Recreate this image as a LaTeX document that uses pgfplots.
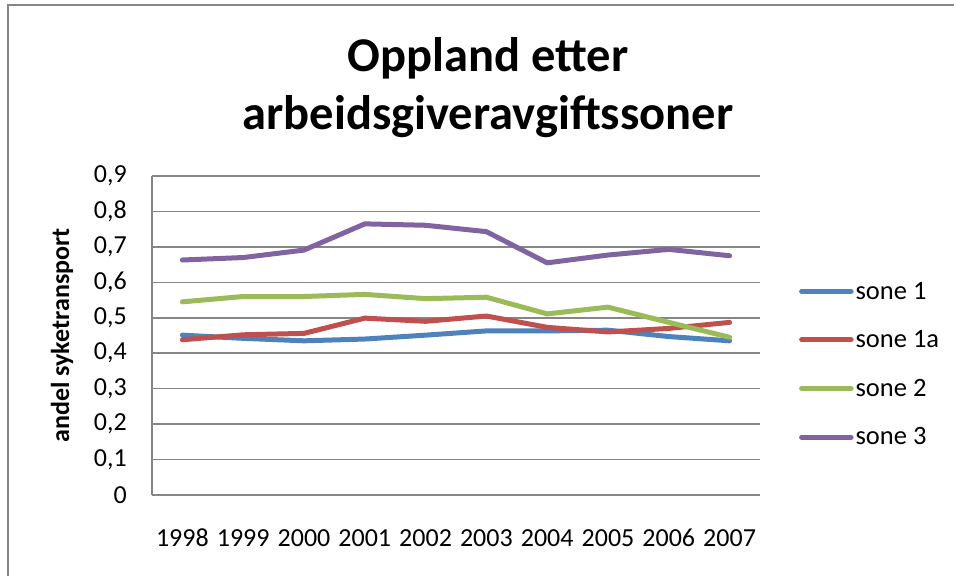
\documentclass[border=0pt]{standalone}
\usepackage{pgfplots}
\pgfplotsset{compat=1.18}
\usepackage{fontspec}
\setmainfont{Carlito}
\definecolor{sblue}{HTML}{4F81BD}
\definecolor{sred}{HTML}{C0504D}
\definecolor{sgreen}{HTML}{9BBB59}
\definecolor{spurple}{HTML}{8064A2}
\definecolor{gridgray}{HTML}{868686}
\begin{document}
\begin{tikzpicture}
\path[use as bounding box] (0,0) rectangle (954bp,576bp);
\draw[gridgray, line width=1.5bp] (8bp,-2bp) -- (8bp,571bp) -- (960bp,571bp);
\node[font=\fontsize{48.5bp}{58bp}\selectfont\bfseries, align=center, anchor=base] at (488bp,446bp) {Oppland etter\\arbeidsgiveravgiftssoner};
\begin{axis}[
  at={(152bp,81bp)}, anchor=south west,
  scale only axis, width=608bp, height=319bp,
  xmin=-0.5, xmax=9.5, ymin=0, ymax=0.9,
  xtick={0,...,9},
  xticklabels={1998,1999,2000,2001,2002,2003,2004,2005,2006,2007},
  ytick={0,0.1,...,0.9},
  axis lines=left,
  axis line style={draw=gridgray, line width=1.5bp, -},
  ymajorgrids, grid style={draw=gridgray, line width=1.5bp},
  major tick length=0pt,
  tick style={draw=none},
  ticklabel style={font=\fontsize{26bp}{30bp}\selectfont},
  /pgf/number format/assume math mode=true,
  /pgf/number format/use comma,
  /pgf/number format/fixed,
  /pgf/number format/precision=1,
  yticklabel style={anchor=east, inner sep=0pt, xshift=-25bp},
  xticklabel style={anchor=north, inner sep=0pt, text height=17bp, text depth=0pt, yshift=-34bp},
  ylabel={andel syketransport},
  every axis y label/.style={at={(axis description cs:-0.148,0.5)}, rotate=90, anchor=center, font=\fontsize{26bp}{30bp}\selectfont\bfseries},
  legend style={at={(axis description cs:1.064,0.41)}, anchor=west, draw=none, fill=none,
    font=\fontsize{26.5bp}{30bp}\selectfont, row sep=26bp, inner sep=0pt,
    nodes={inner sep=2bp, anchor=west}},
  legend cell align=left,
  legend image code/.code={\draw[#1, line cap=round] (2.5bp,0bp) -- (52bp,0bp);},
  every axis plot/.append style={line width=5bp, line join=round, line cap=round},
]
\addplot[sblue] coordinates {(0,0.451) (1,0.442) (2,0.435) (3,0.440) (4,0.451) (5,0.463) (6,0.463) (7,0.465) (8,0.447) (9,0.435)};
\addlegendentry{sone 1}
\addplot[sred] coordinates {(0,0.438) (1,0.452) (2,0.456) (3,0.499) (4,0.490) (5,0.505) (6,0.473) (7,0.460) (8,0.470) (9,0.487)};
\addlegendentry{sone 1a}
\addplot[sgreen] coordinates {(0,0.545) (1,0.560) (2,0.560) (3,0.566) (4,0.554) (5,0.558) (6,0.511) (7,0.530) (8,0.487) (9,0.445)};
\addlegendentry{sone 2}
\addplot[spurple] coordinates {(0,0.663) (1,0.670) (2,0.691) (3,0.765) (4,0.761) (5,0.743) (6,0.655) (7,0.677) (8,0.693) (9,0.675)};
\addlegendentry{sone 3}
\end{axis}
\end{tikzpicture}
\end{document}
